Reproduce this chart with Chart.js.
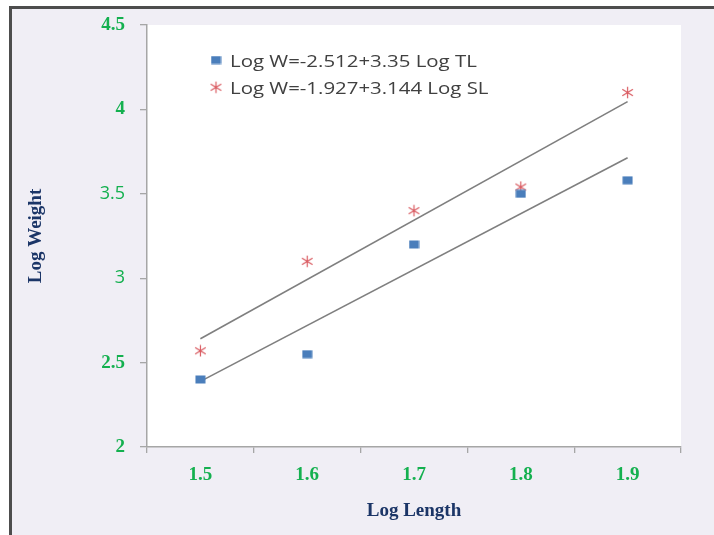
<!DOCTYPE html>
<html><head><meta charset="utf-8">
<script src="https://cdn.jsdelivr.net/npm/chart.js@4"></script>
<style>
html,body{margin:0;padding:0;background:#fff;width:714px;height:535px;overflow:hidden}
#frame{position:absolute;left:9px;top:6px;width:702px;height:526px;border-left:3px solid #4d4d4d;border-top:3px solid #4d4d4d;background:#f0eef5}
canvas{display:block}
</style></head><body>
<div id="frame"><canvas id="c" width="702" height="526"></canvas></div>
<script>
const categories = ['1.5', '1.6', '1.7', '1.8', '1.9'];
const logWeightTL = [2.40, 2.55, 3.20, 3.50, 3.58];
const logWeightSL = [2.57, 3.10, 3.40, 3.54, 4.10];
const trendX = ['1.5', '1.9'];
const trendTL = [2.389, 3.714];
const trendSL = [2.641, 4.046];
const yTicks = [2, 2.5, 3, 3.5, 4, 4.5];
const legendTL = 'Log W=-2.512+3.35 Log TL';
const legendSL = 'Log W=-1.927+3.144 Log SL';

const GREEN = '#14b04f';
const NAVY = '#1b3567';

function squareMarker() {
  const c = document.createElement('canvas');
  c.width = 11; c.height = 9;
  const g = c.getContext('2d');
  g.fillStyle = '#4a7ebb';
  g.fillRect(0.5, 0.5, 10, 8);
  return c;
}
function starMarker() {
  const c = document.createElement('canvas');
  c.width = 13; c.height = 13;
  const g = c.getContext('2d');
  g.strokeStyle = '#d95a60';
  g.lineWidth = 1.2;
  g.beginPath();
  g.moveTo(6.5, 0.8); g.lineTo(6.5, 12.2);
  g.moveTo(1.2, 3.3); g.lineTo(11.8, 9.7);
  g.moveTo(1.2, 9.7); g.lineTo(11.8, 3.3);
  g.stroke();
  return c;
}
const sq = squareMarker();
const st = starMarker();

const bgPlugin = {
  id: 'plotbg',
  beforeDraw(chart) {
    const {ctx, chartArea: a} = chart;
    ctx.save();
    ctx.fillStyle = '#ffffff';
    ctx.fillRect(a.left, a.top, a.right - a.left, a.bottom - a.top);
    ctx.restore();
  }
};
const legendPlugin = {
  id: 'inlegend',
  afterDatasetsDraw(chart) {
    const {ctx, chartArea: a} = chart;
    const rows = [
      {img: sq, text: chart.data.datasets[0].label, cy: 51, by: 57.7},
      {img: st, text: chart.data.datasets[1].label, cy: 78.3, by: 85.3}
    ];
    rows.forEach(r => {
      ctx.save();
      ctx.drawImage(r.img, a.left + 69 - r.img.width / 2, r.cy - r.img.height / 2);
      ctx.font = '17px "Open Sans"';
      ctx.fillStyle = '#404040';
      ctx.textBaseline = 'alphabetic';
      ctx.textAlign = 'left';
      ctx.translate(a.left + 83, r.by);
      ctx.scale(1.2, 1);
      ctx.fillText(r.text, 0, 0);
      ctx.restore();
    });
  }
};

new Chart(document.getElementById('c'), {
  type: 'line',
  data: {
    labels: categories,
    datasets: [
      {label: legendTL, data: logWeightTL, showLine: false, pointStyle: sq, pointRadius: 5, pointHoverRadius: 5, order: 1},
      {label: legendSL, data: logWeightSL, showLine: false, pointStyle: st, pointRadius: 6, pointHoverRadius: 6, order: 1},
      {label: 'trendTL', data: trendX.map((x, i) => ({x: x, y: trendTL[i]})), borderColor: '#7f7f7f', borderWidth: 1.6, pointRadius: 0, fill: false, order: 2},
      {label: 'trendSL', data: trendX.map((x, i) => ({x: x, y: trendSL[i]})), borderColor: '#7f7f7f', borderWidth: 1.6, pointRadius: 0, fill: false, order: 2}
    ]
  },
  options: {
    responsive: false,
    animation: false,
    devicePixelRatio: 1,
    layout: {padding: {top: 16, right: 33, left: 0, bottom: 0}},
    plugins: {legend: {display: false}, tooltip: {enabled: false}},
    scales: {
      x: {
        type: 'category',
        offset: true,
        grid: {offset: true, drawOnChartArea: false, drawTicks: true, tickLength: 6, color: '#a6a6a6', lineWidth: 1.3},
        border: {color: '#a6a6a6', width: 1.5},
        ticks: {color: GREEN, padding: 11, font: {family: '"Liberation Serif"', size: 19, weight: 'bold'}},
        title: {display: true, text: 'Log Length', color: NAVY, padding: {top: 0, bottom: 13}, font: {family: '"Liberation Serif"', size: 19, weight: 'bold'}},
        afterFit(s) { s.height = 88; s.paddingLeft = 0; s.paddingRight = 0; }
      },
      y: {
        min: 2, max: 4.5,
        afterBuildTicks(s) { s.ticks = yTicks.map(v => ({value: v})); },
        grid: {drawOnChartArea: false, drawTicks: true, tickLength: 7, color: '#a6a6a6', lineWidth: 1.3},
        border: {color: '#a6a6a6', width: 1.5},
        ticks: {
          color: GREEN, padding: 15,
          callback: v => String(v),
          font: ctx => (ctx.tick && (ctx.tick.value === 3 || ctx.tick.value === 3.5))
            ? {family: '"Open Sans"', size: 18, weight: 'normal'}
            : {family: '"Liberation Serif"', size: 19, weight: 'bold'}
        },
        title: {display: true, text: 'Log Weight', color: NAVY, padding: {top: 13, bottom: 0}, font: {family: '"Liberation Serif"', size: 19, weight: 'bold'}},
        afterFit(s) { s.width = 135; s.paddingTop = 0; s.paddingBottom = 0; }
      }
    }
  },
  plugins: [bgPlugin, legendPlugin]
});
</script>
</body></html>
